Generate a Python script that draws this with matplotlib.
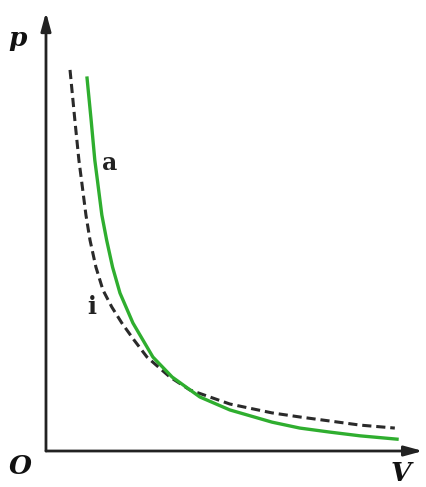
import matplotlib
matplotlib.use('Agg')
import matplotlib.pyplot as plt

# ideal gas isotherm (dashed, "i")
ideal_V = [0.65, 0.78, 0.89, 0.96, 1.08, 1.19, 1.35, 1.54, 1.78, 2.05, 2.38, 2.73,
           3.35, 3.89, 4.97, 6.11, 6.86, 7.68, 8.49, 9.43]
ideal_p = [10.30, 8.95, 7.86, 7.32, 6.38, 5.70, 4.97, 4.35, 3.89, 3.46, 3.00, 2.54,
           2.00, 1.65, 1.27, 1.03, 0.92, 0.81, 0.70, 0.62]

# real gas isotherm (green, "a")
real_V = [1.11, 1.22, 1.32, 1.39, 1.51, 1.64, 1.80, 2.00, 2.35, 2.89, 3.41, 4.16,
          4.97, 6.11, 6.86, 7.68, 8.49, 9.49]
real_p = [10.08, 8.95, 7.86, 7.32, 6.38, 5.70, 4.97, 4.27, 3.46, 2.54, 2.00, 1.46,
          1.11, 0.78, 0.62, 0.51, 0.41, 0.32]

fig = plt.figure(figsize=(4.27, 4.87), dpi=100)
ax = fig.add_axes([0, 0, 1, 1])
ax.set_xlim(-1.243, 10.30)
ax.set_ylim(-0.973, 12.19)
ax.axis('off')

# axes with arrows
arrow = dict(arrowstyle='-|>,head_length=1.1,head_width=0.3', color='#222222', lw=2.0,
             shrinkA=0, shrinkB=0)
ax.annotate('', xy=(10.19, 0), xytext=(0, 0), arrowprops=arrow)
ax.annotate('', xy=(0, 11.86), xytext=(0, 0), arrowprops=arrow)

ax.plot(ideal_V, ideal_p, color='#2a2a2a', lw=2.2, dashes=(3, 1.6))
ax.plot(real_V, real_p, color='#2fae2f', lw=2.4)

lab = dict(family='DejaVu Serif', style='italic', fontweight='bold', fontsize=19,
           ha='center', va='center', color='#111111')
ax.text(-0.76, 11.16, 'p', **lab)
ax.text(-0.70, -0.41, 'O', **lab)
ax.text(9.6, -0.62, 'V', **lab)

ax.text(1.73, 7.78, 'a', family='DejaVu Serif', fontsize=17, fontweight='bold',
        ha='center', va='center', color='#222222')
ax.text(1.24, 3.89, 'i', family='DejaVu Serif', fontsize=17, fontweight='bold',
        ha='center', va='center', color='#222222')

fig.savefig('out.png', dpi=100, facecolor='white')
